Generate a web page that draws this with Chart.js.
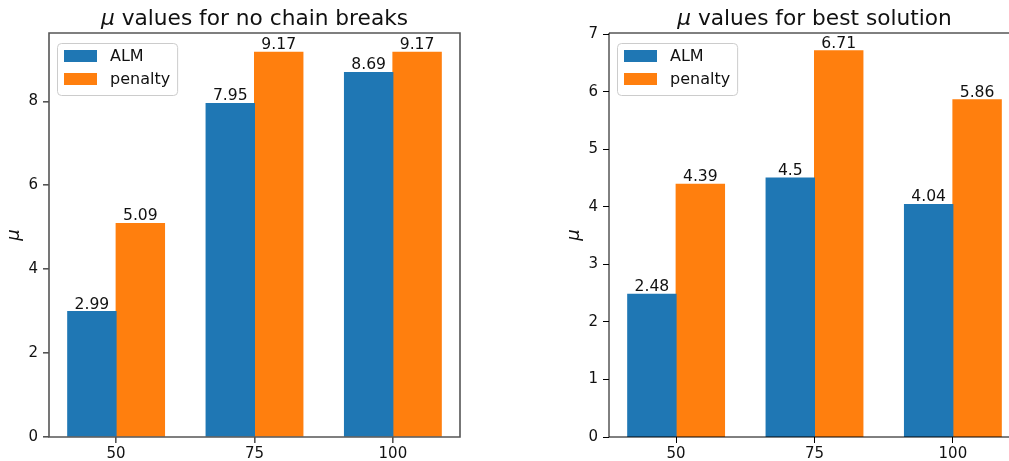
<!DOCTYPE html>
<html>
<head>
<meta charset="utf-8">
<script src="https://cdn.jsdelivr.net/npm/chart.js@4/dist/chart.umd.min.js"></script>
<style>
  html, body { margin: 0; padding: 0; background: #fff; }
  body { width: 1009px; height: 461px; overflow: hidden; position: relative; }
  canvas { position: absolute; top: 0; }
  #chainChart { left: 0; }
  #bestChart { left: 560px; }
</style>
</head>
<body>
<canvas id="chainChart" width="500" height="461"></canvas>
<canvas id="bestChart" width="500" height="461"></canvas>
<script>
/* ===============================
   DATA
================================ */
const categories = ["50", "75", "100"];
const seriesNames = ["ALM", "penalty"];
const seriesColors = ["#1f77b4", "#ff7f0e"];

// left panel: no chain breaks
const chainAlm = [2.99, 7.95, 8.69];
const chainPenalty = [5.09, 9.17, 9.17];
const chainTicks = [0, 2, 4, 6, 8];

// right panel: best solution
const bestAlm = [2.48, 4.5, 4.04];
const bestPenalty = [4.39, 6.71, 5.86];
const bestTicks = [0, 1, 2, 3, 4, 5, 6, 7];

const FONT = "'DejaVu Sans', sans-serif";

/* -------------------------------
   Plugins: frame, title, labels, legend
-------------------------------- */
const framePlugin = {
  id: "frame",
  afterDatasetsDraw(chart, args, opts) {
    const { ctx, chartArea: a } = chart;
    ctx.save();
    ctx.strokeStyle = opts.color;
    ctx.lineWidth = opts.width;
    ctx.beginPath();
    ctx.moveTo(a.right, a.top);
    ctx.lineTo(a.left, a.top);
    ctx.lineTo(a.left, a.bottom);
    ctx.lineTo(a.right, a.bottom);
    if (opts.right) ctx.closePath();
    ctx.stroke();
    ctx.restore();
  }
};

const titlePlugin = {
  id: "muTitle",
  afterDraw(chart, args, opts) {
    const { ctx, chartArea: a } = chart;
    const mu = "\u03bc";
    const rest = " " + opts.text;
    const size = "21.7px ";
    ctx.save();
    ctx.fillStyle = "#111";
    ctx.textBaseline = "alphabetic";
    ctx.font = "italic " + size + FONT;
    const w1 = ctx.measureText(mu).width;
    ctx.font = size + FONT;
    const w2 = ctx.measureText(rest).width;
    const x = (a.left + a.right) / 2 - (w1 + w2) / 2;
    ctx.textAlign = "left";
    ctx.font = "italic " + size + FONT;
    ctx.fillText(mu, x, 25);
    ctx.font = size + FONT;
    ctx.fillText(rest, x + w1, 25);
    ctx.restore();
  }
};

const valueLabelPlugin = {
  id: "valueLabels",
  afterDraw(chart) {
    const { ctx } = chart;
    ctx.save();
    ctx.fillStyle = "#111";
    ctx.font = "15.6px " + FONT;
    ctx.textAlign = "center";
    ctx.textBaseline = "alphabetic";
    chart.data.datasets.forEach((ds, i) => {
      chart.getDatasetMeta(i).data.forEach((bar, j) => {
        ctx.fillText(String(ds.data[j].y), bar.x, bar.y - 3);
      });
    });
    ctx.restore();
  }
};

const legendPlugin = {
  id: "boxLegend",
  afterDraw(chart) {
    const { ctx, chartArea: a } = chart;
    ctx.save();
    ctx.font = "16px " + FONT;
    const textW = Math.max(...chart.data.datasets.map(d => ctx.measureText(d.label).width));
    const bx = a.left + 8, by = a.top + 10;
    const bw = 53 + textW + 7, bh = 52;
    ctx.beginPath();
    ctx.roundRect(bx + 0.5, by + 0.5, bw, bh, 4);
    ctx.fillStyle = "rgba(255,255,255,0.8)";
    ctx.fill();
    ctx.strokeStyle = "#cccccc";
    ctx.lineWidth = 1;
    ctx.stroke();
    chart.data.datasets.forEach((ds, i) => {
      const py = by + 7 + i * 23;
      ctx.fillStyle = ds.backgroundColor;
      ctx.fillRect(bx + 7, py, 33, 12);
      ctx.fillStyle = "#111";
      ctx.textAlign = "left";
      ctx.textBaseline = "middle";
      ctx.fillText(ds.label, bx + 53, py + 6.5);
    });
    ctx.restore();
  }
};

/* -------------------------------
   Build one panel
-------------------------------- */
function makePanel(canvasId, title, alm, penalty, tickValues, yMax, spineColor, spineWidth, rightSpine) {
  const canvas = document.getElementById(canvasId);
  const toPoints = arr => arr.map((v, i) => ({ x: i, y: v }));
  return new Chart(canvas, {
    type: "bar",
    data: {
      datasets: [
        { label: seriesNames[0], data: toPoints(alm), backgroundColor: seriesColors[0] },
        { label: seriesNames[1], data: toPoints(penalty), backgroundColor: seriesColors[1] }
      ]
    },
    plugins: [framePlugin, titlePlugin, valueLabelPlugin, legendPlugin],
    options: {
      responsive: false,
      animation: false,
      layout: { padding: { top: 33, right: 40, left: 0, bottom: 0 } },
      datasets: {
        bar: { categoryPercentage: 0.7, barPercentage: 1.0, borderWidth: 0, inflateAmount: 0.5 }
      },
      plugins: {
        legend: { display: false },
        title: { display: false },
        tooltip: { enabled: false },
        frame: { color: spineColor, width: spineWidth, right: rightSpine },
        muTitle: { text: title }
      },
      scales: {
        x: {
          type: "linear",
          min: -0.485,
          max: categories.length - 1 + 0.485,
          offset: false,
          border: { display: false },
          grid: {
            offset: false,
            drawOnChartArea: false,
            drawTicks: true,
            tickLength: 6,
            color: spineColor,
            lineWidth: spineWidth
          },
          ticks: {
            color: "#111",
            font: { family: FONT, size: 15 },
            padding: 2,
            callback: v => categories[v]
          },
          afterBuildTicks(scale) {
            scale.ticks = categories.map((c, i) => ({ value: i }));
          },
          afterFit(scale) { scale.height = 24; }
        },
        y: {
          min: 0,
          max: yMax,
          border: { display: false },
          grid: {
            drawOnChartArea: false,
            drawTicks: true,
            tickLength: 6,
            color: spineColor,
            lineWidth: spineWidth
          },
          ticks: { color: "#111", font: { family: FONT, size: 15 }, padding: 5 },
          afterBuildTicks(scale) {
            scale.ticks = tickValues.map(v => ({ value: v }));
          },
          afterFit(scale) { scale.width = 49; },
          title: {
            display: true,
            text: "\u03bc",
            color: "#111",
            font: { family: FONT, size: 18, style: "italic" },
            padding: { top: 4, bottom: 0 }
          }
        }
      }
    }
  });
}

makePanel("chainChart", "values for no chain breaks", chainAlm, chainPenalty, chainTicks, 9.63, "#555555", 1.6, true);
makePanel("bestChart", "values for best solution", bestAlm, bestPenalty, bestTicks, 7.02, "#000000", 1, false);
</script>
</body>
</html>
